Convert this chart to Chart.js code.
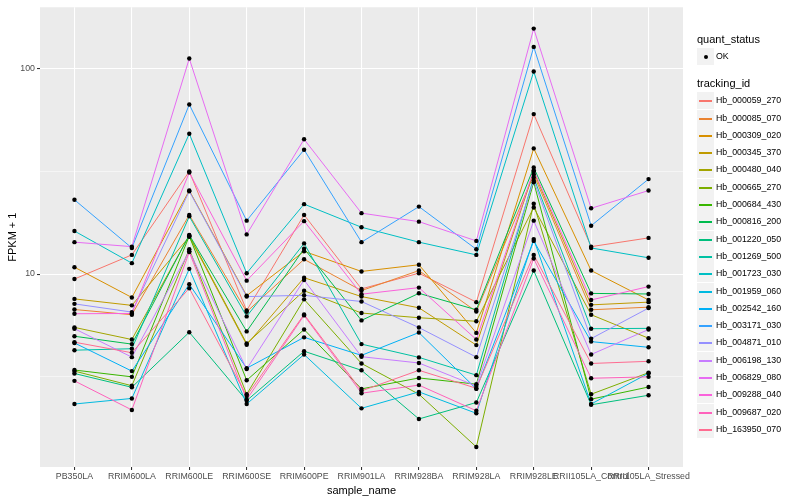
<!DOCTYPE html>
<html lang="en">
<head>
<meta charset="UTF-8">
<title>FPKM + 1 by sample</title>
<script src="https://cdn.jsdelivr.net/npm/chart.js"></script>
<style>
  body { margin: 0; background: #fff; font-family: "Liberation Sans", Arial, sans-serif; }
  #wrap { position: relative; width: 800px; height: 500px; }
  .lg { position: absolute; white-space: nowrap; color: #000; }
  .lg-title { font-size: 11px; line-height: 13px; }
  .lg-text { font-size: 8.8px; line-height: 11px; }
  .lg-key { position: absolute; width: 17px; height: 17px; background: #F2F2F2; }
  .lg-line { position: absolute; left: 2px; top: 8px; width: 13px; height: 1.5px; }
  .lg-dot { position: absolute; left: 6.5px; top: 6.5px; width: 4px; height: 4px; border-radius: 2px; background: #000; }
</style>
</head>
<body>
<div id="wrap">
  <canvas id="fpkmChart" width="800" height="500"></canvas>
</div>
<script>
// sample names on the x axis
var samples = ['PB350LA', 'RRIM600LA', 'RRIM600LE', 'RRIM600SE', 'RRIM600PE', 'RRIM901LA',
               'RRIM928BA', 'RRIM928LA', 'RRIM928LE', 'RRII105LA_Control', 'RRII105LA_Stressed'];

// FPKM + 1, one array per gene, same order as samples
var hb_000059_270 = [9.46, 12.4, 31.6, 6.65, 19.4, 8.47, 10.1, 7.30, 60.1, 13.6, 15.0];
var hb_000085_070 = [6.72, 6.34, 19.4, 6.55, 11.8, 8.31, 10.4, 6.57, 30.5, 6.70, 6.9];
var hb_000309_020 = [10.8, 7.69, 25.5, 7.85, 12.9, 10.3, 11.1, 5.17, 40.9, 10.4, 7.48];
var hb_000345_370 = [7.57, 7.04, 15.2, 4.53, 9.60, 7.77, 6.85, 4.51, 31.5, 7.08, 7.3];
var hb_000480_040 = [5.50, 4.80, 15.4, 4.59, 8.30, 6.46, 6.13, 5.89, 21.1, 6.34, 4.87];
var hb_000665_270 = [3.37, 2.86, 13.2, 2.60, 7.53, 3.67, 2.60, 1.44, 22.0, 2.60, 3.31];
var hb_000684_430 = [3.41, 3.16, 15.3, 3.04, 5.37, 2.76, 3.12, 2.91, 28.0, 2.46, 2.82];
var hb_000816_200 = [4.98, 4.56, 15.5, 5.26, 13.3, 5.95, 8.06, 6.70, 33.0, 8.05, 8.0];
var hb_001220_050 = [3.28, 2.81, 5.21, 2.42, 4.21, 3.40, 1.97, 2.37, 10.4, 2.31, 2.57];
var hb_001269_500 = [4.26, 4.33, 19.1, 6.22, 14.1, 4.56, 3.93, 3.22, 29.5, 5.42, 5.44];
var hb_001723_030 = [16.2, 11.3, 48.2, 10.1, 21.9, 16.9, 14.3, 12.4, 96.8, 13.4, 12.0];
var hb_001959_060 = [2.33, 2.48, 10.6, 2.33, 4.06, 2.22, 2.67, 2.10, 14.8, 2.33, 3.29];
var hb_002542_160 = [4.62, 3.37, 8.92, 3.48, 4.92, 4.02, 5.19, 2.76, 14.5, 4.69, 4.40];
var hb_003171_030 = [23.0, 13.4, 66.9, 18.2, 40.3, 14.3, 21.3, 13.2, 127.6, 17.2, 29.0];
var hb_004871_010 = [7.16, 6.53, 25.3, 7.77, 7.88, 7.35, 5.49, 3.94, 28.5, 4.85, 6.83];
var hb_006198_130 = [5.42, 3.94, 12.9, 3.45, 9.36, 3.96, 3.69, 2.85, 18.2, 4.06, 5.37];
var hb_006829_080 = [14.3, 13.6, 112, 15.6, 45.3, 19.8, 18.0, 14.5, 156.7, 20.9, 25.5];
var hb_009288_040 = [6.41, 6.43, 31.2, 9.29, 18.1, 7.98, 8.59, 4.80, 32.0, 7.48, 8.69];
var hb_009687_020 = [3.02, 2.18, 12.8, 2.45, 6.29, 2.63, 2.88, 2.16, 11.9, 3.11, 3.16];
var hb_163950_070 = [4.66, 4.14, 8.53, 2.55, 6.36, 2.70, 3.40, 2.78, 12.4, 3.67, 3.76];

var trackingIds = ['Hb_000059_270', 'Hb_000085_070', 'Hb_000309_020', 'Hb_000345_370', 'Hb_000480_040',
                   'Hb_000665_270', 'Hb_000684_430', 'Hb_000816_200', 'Hb_001220_050', 'Hb_001269_500',
                   'Hb_001723_030', 'Hb_001959_060', 'Hb_002542_160', 'Hb_003171_030', 'Hb_004871_010',
                   'Hb_006198_130', 'Hb_006829_080', 'Hb_009288_040', 'Hb_009687_020', 'Hb_163950_070'];
var seriesValues = [hb_000059_270, hb_000085_070, hb_000309_020, hb_000345_370, hb_000480_040,
                    hb_000665_270, hb_000684_430, hb_000816_200, hb_001220_050, hb_001269_500,
                    hb_001723_030, hb_001959_060, hb_002542_160, hb_003171_030, hb_004871_010,
                    hb_006198_130, hb_006829_080, hb_009288_040, hb_009687_020, hb_163950_070];

// y breaks: majors 10 and 100, minors halfway on the log scale
var yBreaks = [3.1623, 10, 31.623, 100];
var yLabels = [10, 100];

// ggplot hue palette for 20 groups
var palette = ['#F8766D', '#EA8331', '#D89000', '#C09B00', '#A3A500', '#7CAE00', '#39B600', '#00BB4E',
               '#00BF7D', '#00C1A3', '#00BFC4', '#00BAE0', '#00B0F6', '#35A2FF', '#9590FF', '#C77CFF',
               '#E76BF3', '#FA62DB', '#FF62BC', '#FF6C91'];

var fontFamily = '"Liberation Sans", Arial, sans-serif';

var datasets = [];
var allPoints = [];
seriesValues.forEach(function(vals, i) {
    var pts = vals.map(function(v, j) { return {x: j, y: v}; });
    allPoints = allPoints.concat(pts);
    datasets.push({
        type: 'line',
        label: trackingIds[i],
        data: pts,
        borderColor: palette[i],
        borderWidth: 1,
        pointRadius: 0,
        fill: false,
        tension: 0,
        order: 20 - i
    });
});
datasets.push({
    type: 'scatter',
    label: 'OK',
    data: allPoints,
    backgroundColor: '#000',
    borderWidth: 0,
    pointRadius: 2.2,
    order: 0
});

var isMajor = function(v) { return yLabels.indexOf(v) > -1; };

// grey panel behind the plot area
var panelBg = {
    id: 'panelBg',
    beforeDraw: function(chart) {
        var a = chart.chartArea, ctx = chart.ctx;
        ctx.save();
        ctx.fillStyle = '#EBEBEB';
        ctx.fillRect(a.left, a.top, a.right - a.left, a.bottom - a.top);
        ctx.restore();
    }
};

var ctx = document.getElementById('fpkmChart').getContext('2d');
var fpkmChart = new Chart(ctx, {
    type: 'line',
    data: { datasets: datasets },
    plugins: [panelBg],
    options: {
        responsive: false,
        animation: false,
        layout: { padding: { left: 0, right: 117, top: 5, bottom: 0 } },
        plugins: { legend: { display: false }, tooltip: { enabled: false } },
        scales: {
            x: {
                type: 'linear',
                min: -0.6,
                max: 10.6,
                afterBuildTicks: function(s) { s.ticks = samples.map(function(_, i) { return {value: i}; }); },
                afterFit: function(s) { s.height = 33; },
                ticks: {
                    autoSkip: false, maxRotation: 0, minRotation: 0, padding: 1,
                    color: '#4D4D4D', font: { size: 8.8, family: fontFamily },
                    callback: function(v) { return samples[v]; }
                },
                grid: { color: '#FFFFFF', lineWidth: 1.07, tickLength: 3, tickColor: '#333333' },
                border: { display: false },
                title: { display: true, text: 'sample_name', color: '#000', font: { size: 11, family: fontFamily }, padding: { top: 0, bottom: 2 } }
            },
            y: {
                type: 'logarithmic',
                min: 1.15,
                max: 199,
                afterBuildTicks: function(s) { s.ticks = yBreaks.map(function(v) { return {value: v}; }); },
                afterFit: function(s) { s.width = 40; },
                ticks: {
                    autoSkip: false, padding: 2,
                    color: '#4D4D4D', font: { size: 8.8, family: fontFamily },
                    callback: function(v) { return isMajor(v) ? String(v) : ''; }
                },
                grid: {
                    color: '#FFFFFF',
                    lineWidth: function(c) { return c.tick && isMajor(c.tick.value) ? 1.07 : 0.53; },
                    tickLength: 3,
                    tickColor: function(c) { return c.tick && isMajor(c.tick.value) ? '#333333' : 'rgba(0,0,0,0)'; }
                },
                border: { display: false },
                title: { display: true, text: 'FPKM + 1', color: '#000', font: { size: 11, family: fontFamily }, padding: { top: 6, bottom: 0 } }
            }
        }
    }
});

// legend on the right, built as html
var wrap = document.getElementById('wrap');
function addDiv(cls, left, top, text) {
    var d = document.createElement('div');
    d.className = cls;
    d.style.left = left + 'px';
    d.style.top = top + 'px';
    if (text) d.textContent = text;
    wrap.appendChild(d);
    return d;
}
addDiv('lg lg-title', 697, 33, 'quant_status');
var okKey = addDiv('lg-key', 697, 48);
okKey.appendChild(document.createElement('div')).className = 'lg-dot';
addDiv('lg lg-text', 716, 51, 'OK');
addDiv('lg lg-title', 697, 77, 'tracking_id');
trackingIds.forEach(function(id, i) {
    var top = Math.round(100.7 + 17.3 * i - 8.5);
    var key = addDiv('lg-key', 697, top);
    var line = document.createElement('div');
    line.className = 'lg-line';
    line.style.background = palette[i];
    key.appendChild(line);
    addDiv('lg lg-text', 716, top + 3, id);
});
</script>
</body>
</html>
